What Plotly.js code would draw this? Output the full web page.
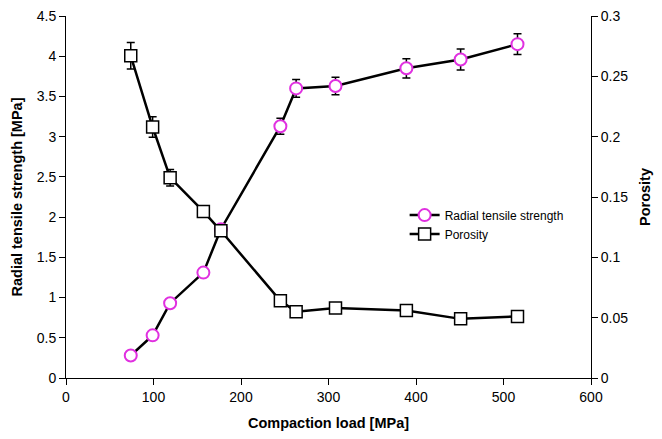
<!DOCTYPE html>
<html>
<head>
<meta charset="utf-8">
<script src="https://cdn.plot.ly/plotly-3.0.1.min.js"></script>
<style>html,body{margin:0;padding:0;background:#fff;}#chart{width:662px;height:439px;}</style>
</head>
<body>
<div id="chart"></div>
<script>
const load = [74, 99, 119, 157, 177, 245, 263, 308, 389, 451, 516];
const strength = [0.28, 0.53, 0.93, 1.31, 1.85, 3.13, 3.6, 3.63, 3.85, 3.96, 4.15];
const strengthErr = [0.02, 0.03, 0.03, 0.03, 0.04, 0.1, 0.11, 0.11, 0.12, 0.13, 0.13];
const porosity = [0.267, 0.208, 0.166, 0.138, 0.122, 0.064, 0.055, 0.058, 0.056, 0.049, 0.051];
const porosityErr = [0.011, 0.0085, 0.0068, 0.004, 0.003, 0.002, 0.002, 0.002, 0.002, 0.002, 0.002];

const traces = [
  {
    x: load, y: strength, name: 'Radial tensile strength', type: 'scatter', mode: 'lines+markers',
    line: {color: '#000', width: 2.5},
    marker: {symbol: 'circle', size: 12, color: '#fff', line: {color: '#e030e0', width: 2}},
    error_y: {type: 'data', array: strengthErr, visible: true, color: '#000', thickness: 1.5, width: 4},
    yaxis: 'y'
  },
  {
    x: load, y: porosity, name: 'Porosity', type: 'scatter', mode: 'lines+markers',
    line: {color: '#000', width: 2.5},
    marker: {symbol: 'square', size: 12, color: '#fff', line: {color: '#000', width: 1.5}},
    error_y: {type: 'data', array: porosityErr, visible: true, color: '#000', thickness: 1.5, width: 4},
    yaxis: 'y2'
  }
];

const layout = {
  width: 662, height: 439,
  margin: {l: 66, r: 71, t: 16, b: 61},
  paper_bgcolor: '#fff', plot_bgcolor: '#fff',
  font: {family: 'Liberation Sans, Arial, sans-serif', color: '#000', size: 14},
  showlegend: true,
  legend: {x: 0.645, y: 0.49, xanchor: 'left', yanchor: 'top', bgcolor: 'rgba(0,0,0,0)', font: {size: 12}, tracegroupgap: 0, itemwidth: 30},
  xaxis: {
    range: [0, 600], dtick: 100, showgrid: false, zeroline: false,
    showline: true, linecolor: '#000', linewidth: 1, ticks: 'outside', ticklen: 6, tickcolor: '#000',
    tickfont: {size: 14},
    title: {text: '<b>Compaction load [MPa]</b>', font: {size: 14.5}, standoff: 14}
  },
  yaxis: {
    range: [0, 4.5], dtick: 0.5, showgrid: false, zeroline: false,
    showline: true, linecolor: '#000', linewidth: 1, ticks: 'outside', ticklen: 6, tickcolor: '#000',
    tickfont: {size: 14},
    title: {text: '<b>Radial tensile strength [MPa]</b>', font: {size: 14.5}, standoff: 10}
  },
  yaxis2: {
    range: [0, 0.3], dtick: 0.05, overlaying: 'y', side: 'right', showgrid: false, zeroline: false,
    showline: true, linecolor: '#000', linewidth: 1, ticks: 'outside', ticklen: 6, tickcolor: '#000',
    tickfont: {size: 14},
    title: {text: '<b>Porosity</b>', font: {size: 14.5}, standoff: 12}
  }
};

Plotly.newPlot('chart', traces, layout, {displayModeBar: false, staticPlot: true});
</script>
</body>
</html>
